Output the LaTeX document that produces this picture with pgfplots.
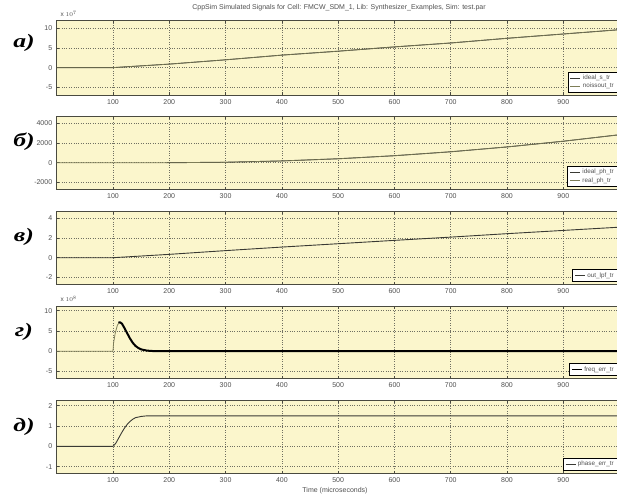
\documentclass[border=0pt]{standalone}
\usepackage{fontspec}
\setmainfont{Liberation Sans}
\newfontfamily\lblfont{Liberation Serif}
\usepackage{pgfplots}
\pgfplotsset{compat=1.18}
\definecolor{bgy}{HTML}{FBF6CC}
\definecolor{frm}{HTML}{4A4A40}
\definecolor{grd}{HTML}{707062}
\definecolor{dk}{HTML}{3A3A34}
\definecolor{olv}{HTML}{7E7E58}
\definecolor{tk}{HTML}{505050}
\pgfplotsset{
  panel/.style={
    scale only axis, width=562.9pt,
    xmin=0, xmax=1000, xtick={100,200,...,900},
    anchor=south west,
    axis background/.style={fill=bgy},
    axis line style={frm, line width=0.8pt},
    grid=major,
    major grid style={dotted, grd, line width=0.6pt},
    tick align=inside, major tick length=2.5pt,
    tick style={frm, line width=0.5pt},
    tick label style={font=\fontsize{7}{8}\selectfont, text=tk},
    /pgf/number format/assume math mode=true,
    /pgf/number format/set thousands separator={},
    scaled ticks=false,
    yticklabel style={xshift=-1pt},
    xticklabel style={yshift=-1pt},
    clip=true,
    legend cell align=left,
    legend style={at={(0.997,0.035)}, anchor=south east,
      font=\fontsize{6.3}{7}\selectfont, text=tk, draw=black, line width=0.5pt, fill=white,
      inner xsep=2pt, inner ysep=1pt, row sep=-2pt},
    legend image code/.code={\draw[#1, line width=0.8pt] (0pt,0pt) -- (10pt,0pt);},
  }
}
\begin{document}
\begin{tikzpicture}[x=1pt,y=1pt]
\useasboundingbox[fill=white] (0,0) rectangle (617,499);
% title
\node[font=\fontsize{7}{8}\selectfont, text=tk] at (339,491) {CppSim Simulated Signals for Cell: FMCW\_SDM\_1, Lib: Synthesizer\_Examples, Sim: test.par};
% panel a
\begin{axis}[panel, at={(56.7pt,404pt)}, height=74.3pt, ymin=-7, ymax=12, ytick={-5,0,5,10}]
\addplot[dk, line width=0.9pt] coordinates {(0,0) (100,0) (200,0.9) (300,2.0) (400,3.2) (500,4.2) (600,5.3) (700,6.3) (800,7.5) (900,8.6) (1000,9.7)};
\addlegendentry{ideal\_s\_tr}
\addplot[olv, line width=0.6pt] coordinates {(0,0) (100,0) (200,0.9) (300,2.0) (400,3.2) (500,4.2) (600,5.3) (700,6.3) (800,7.5) (900,8.6) (1000,9.7)};
\addlegendentry{noissout\_tr}
\end{axis}
\node[font=\fontsize{6.5}{7}\selectfont, text=tk, anchor=west] at (57,485) {x $10^{7}$};
% panel b
\begin{axis}[panel, at={(56.7pt,309.7pt)}, height=72.6pt, ymin=-2700, ymax=4670, ytick={-2000,0,2000,4000}]
\addplot[dk, line width=0.9pt] coordinates {(195,0) (300,45) (400,180) (500,400) (600,710) (700,1110) (800,1600) (900,2180) (1000,2840)};
\addlegendentry{ideal\_ph\_tr}
\addplot[olv, line width=0.6pt] coordinates {(0,0) (195,0) (300,45) (400,180) (500,400) (600,710) (700,1110) (800,1600) (900,2180) (1000,2840)};
\addlegendentry{real\_ph\_tr}
\end{axis}
% panel c
\begin{axis}[panel, at={(56.7pt,214.7pt)}, height=72.6pt, ymin=-2.7, ymax=4.67, ytick={-2,0,2,4}]
\addplot[dk, line width=0.9pt] coordinates {(0,0) (100,0) (200,0.34) (300,0.72) (400,1.08) (500,1.42) (600,1.76) (700,2.09) (800,2.44) (900,2.77) (1000,3.1)};
\addlegendentry{out\_lpf\_tr}
\end{axis}
% panel d
\begin{axis}[panel, at={(56.7pt,120.7pt)}, height=71.6pt, ymin=-6.7, ymax=11, ytick={-5,0,5,10}]
\addplot[olv, line width=0.8pt, forget plot] coordinates {(0,0) (100,0) (101,2) (104,4.5) (108,6.5) (112,7.2)};
\addplot[black, line width=2pt, line join=round] coordinates {(110,7.0) (112,7.2) (116,6.8) (120,5.8) (125,4.5) (130,3.2) (135,2.1) (140,1.3) (145,0.8) (150,0.45) (160,0.15) (170,0.05) (180,0) (1000,0)};
\addlegendentry{freq\_err\_tr}
\end{axis}
\node[font=\fontsize{6.5}{7}\selectfont, text=tk, anchor=west] at (57,200) {x $10^{8}$};
% panel e
\begin{axis}[panel, at={(56.7pt,25.7pt)}, height=73.3pt, ymin=-1.33, ymax=2.28, ytick={-1,0,1,2}]
\addplot[dk, line width=0.9pt] coordinates {(0,0) (100,0) (105,0.15) (110,0.4) (115,0.65) (120,0.88) (125,1.07) (130,1.22) (135,1.33) (140,1.41) (150,1.47) (160,1.5) (170,1.5) (1000,1.5)};
\addlegendentry{phase\_err\_tr}
\end{axis}
\node[font=\fontsize{7}{8}\selectfont, text=tk] at (335,8) {Time (microseconds)};
% left labels
\foreach \t/\yy in {а)/456, б)/357, в)/262, г)/167, д)/72}{
  \node[font=\lblfont\bfseries\itshape\fontsize{19}{20}\selectfont, xscale=1.35, transform shape] at (24,\yy) {\t};
}
\end{tikzpicture}
\end{document}
